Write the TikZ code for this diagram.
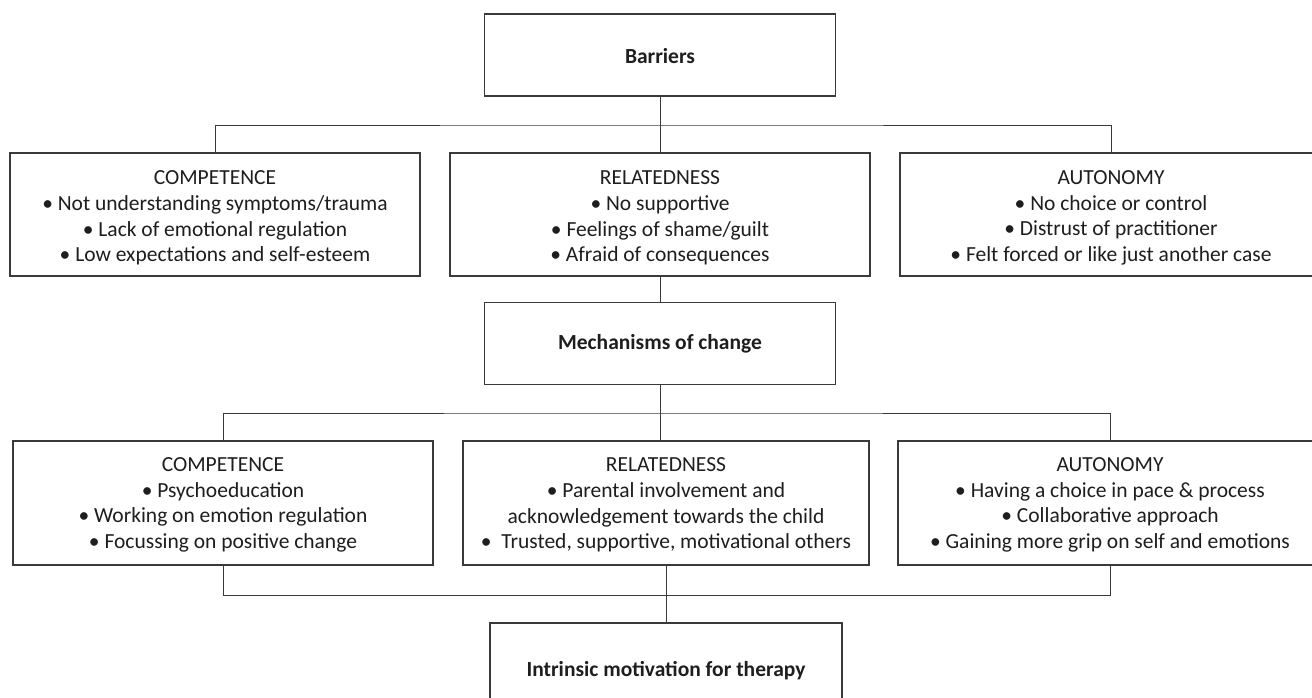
\documentclass[tikz,border=0pt]{standalone}
\usepackage{fontspec}
\setmainfont{Carlito}
\definecolor{linec}{HTML}{3A3A3A}
\definecolor{textc}{HTML}{1E1E1E}
\newcommand\mytopgap[1]{\rule{0pt}{#1}}
\begin{document}
\begin{tikzpicture}[x=1pt,y=-1pt,
  box/.style={draw=linec,line width=1.3pt,rectangle,inner sep=0pt,align=center,
    text=textc,font=\fontsize{21.5}{25.6}\selectfont},
  title/.style={box,minimum width=351pt,minimum height=82pt,font=\fontsize{21.5}{25.6}\selectfont\bfseries},
  conn/.style={draw=linec,line width=1pt}]
\clip (0,0) rectangle (1312,697);
\fill[white] (0,0) rectangle (1312,697);
% Level 0
\node[title] (bar) at (660,55) {\mytopgap{17pt}Barriers};
% Level 1
\node[box,minimum width=410pt,minimum height=123pt] (c1) at (215,214.5) {\mytopgap{21pt}COMPETENCE\\\textbullet\ Not understanding symptoms/trauma\\\textbullet\ Lack of emotional regulation\\\textbullet\ Low expectations and self-esteem};
\node[box,minimum width=420pt,minimum height=123pt] (c2) at (660,214.5) {\mytopgap{21pt}RELATEDNESS\\\textbullet\ No supportive\\\textbullet\ Feelings of shame/guilt\\\textbullet\ Afraid of consequences};
\node[box,minimum width=422pt,minimum height=123pt] (c3) at (1111,214.5) {\mytopgap{21pt}AUTONOMY\\\textbullet\ No choice or control\\\textbullet\ Distrust of practitioner\\\textbullet\ Felt forced or like just another case};
% Level 2
\node[title] (mech) at (660,343.5) {Mechanisms of change};
% Level 3
\node[box,minimum width=420pt,minimum height=124pt] (m1) at (223,503) {\mytopgap{18pt}COMPETENCE\\\textbullet\ Psychoeducation\\\textbullet\ Working on emotion regulation\\\textbullet\ Focussing on positive change};
\node[box,minimum width=406pt,minimum height=124pt] (m2) at (666,503) {\mytopgap{18pt}RELATEDNESS\\\textbullet\ Parental involvement and\\acknowledgement towards the child\\\textbullet\ \ Trusted, supportive, motivational others};
\node[box,minimum width=424pt,minimum height=124pt] (m3) at (1110,503) {\mytopgap{18pt}AUTONOMY\\\textbullet\ Having a choice in pace \& process\\\textbullet\ Collaborative approach\\\textbullet\ Gaining more grip on self and emotions};
% Level 4
\node[title,minimum width=352pt,minimum height=96pt] (intr) at (666,671) {Intrinsic motivation for therapy};
% junctions
\coordinate (j1) at (660,125);
\coordinate (j2) at (660,413);
\coordinate (j3) at (666,595);
% connectors
\draw[conn] (bar.south) -- (c2.north);
\draw[conn] (c1.north) |- (j1) -| (c3.north);
\draw[conn] (c2.south) -- (mech.north);
\draw[conn] (m1.north) |- (j2) -| (m3.north);
\draw[conn] (mech.south) -- (mech.south |- m2.north);
\draw[conn] (m1.south) |- (j3) -| (m3.south);
\draw[conn] (m2.south) -- (intr.north);
\end{tikzpicture}
\end{document}
